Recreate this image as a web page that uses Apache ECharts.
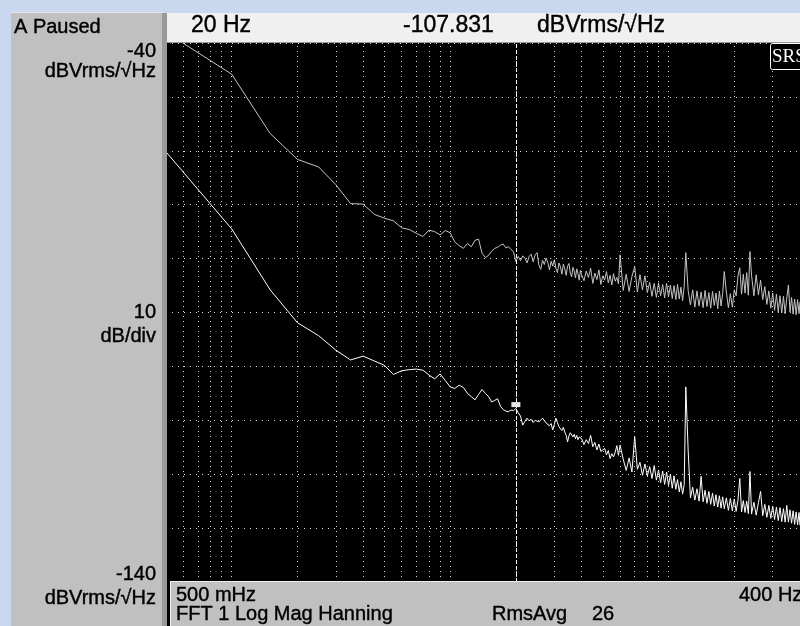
<!DOCTYPE html>
<html lang="en">
<head>
<meta charset="UTF-8">
<title>FFT 1 Log Mag</title>
<style>
  html, body { margin: 0; padding: 0; background: #c9d8ee; }
  #chart { width: 800px; height: 626px; }
</style>
</head>
<body>
<div id="chart"></div>
<script src="https://cdn.jsdelivr.net/npm/echarts@6/dist/echarts.min.js"></script>
<script>
// FFT bins (Hz)
var freqs = [
  0.5, 1, 1.5, 2, 2.5, 3, 3.5, 4, 4.5, 5,
  5.5, 6, 6.5, 7, 7.5, 8, 8.5, 9, 9.5, 10,
  10.5, 11, 11.5, 12, 12.5, 13, 13.5, 14, 14.5, 15,
  15.5, 16, 16.5, 17, 17.5, 18, 18.5, 19, 19.5, 20,
  20.5, 21, 21.5, 22, 22.5, 23, 23.5, 24, 24.5, 25,
  25.5, 26, 26.5, 27, 27.5, 28, 28.5, 29, 29.5, 30,
  30.5, 31, 31.5, 32, 32.5, 33, 33.5, 34, 34.5, 35,
  35.5, 36, 36.5, 37, 37.5, 38, 38.5, 39, 39.5, 40,
  41, 42, 43, 44, 45, 46, 47, 48, 49, 50,
  51, 52, 53, 54, 55, 56, 57, 58, 59, 60,
  62, 64, 66, 68, 70, 72, 74, 76, 78, 80,
  82, 84, 86, 88, 90, 92, 94, 96, 98, 100,
  102, 104, 106, 108, 110, 112, 114, 116, 118, 120,
  123, 126, 129, 132, 135, 138, 141, 144, 147, 150,
  153, 156, 159, 162, 165, 168, 171, 174, 177, 180,
  184, 188, 192, 196, 200, 204, 208, 212, 216, 220,
  224, 228, 232, 236, 240, 246, 252, 258, 264, 270,
  276, 282, 288, 294, 300, 306, 312, 318, 324, 330,
  336, 342, 348, 354, 360, 366, 372, 378, 384, 390,
  396, 400
];

// upper trace (gray), dBVrms/rtHz
var upperDb = [
  -38.0, -45.8, -56.8, -61.6, -63.0, -66.3, -69.8, -69.9, -71.8, -72.5,
  -73.0, -74.3, -74.6, -75.3, -75.9, -74.7, -75.0, -75.6, -74.8, -75.2,
  -76.9, -77.6, -78.1, -77.2, -77.8, -76.6, -76.4, -79.0, -79.8, -79.4,
  -78.6, -78.1, -77.9, -77.5, -77.3, -78.0, -77.8, -78.3, -78.7, -80.5,
  -79.6, -80.4, -79.5, -79.9, -80.8, -79.6, -79.2, -80.6, -79.3, -78.9,
  -81.2, -82.0, -80.3, -81.1, -79.9, -80.7, -82.1, -80.5, -81.4, -80.2,
  -81.8, -82.6, -80.8, -81.5, -82.9, -81.0, -81.9, -83.1, -81.4, -80.9,
  -82.7, -83.4, -81.6, -82.3, -83.6, -81.9, -82.8, -84.0, -82.2, -83.0,
  -84.1, -82.3, -83.5, -81.8, -84.6, -82.7, -83.9, -82.1, -84.8, -83.2,
  -84.0, -82.4, -84.5, -83.1, -84.9, -82.8, -84.2, -83.5, -84.7, -79.3,
  -85.9, -82.9, -86.1, -83.3, -81.5, -86.2, -83.0, -85.8, -83.2, -86.3,
  -84.4, -87.0, -84.6, -87.2, -84.5, -86.9, -84.8, -87.3, -84.6, -87.1,
  -84.9, -87.4, -85.0, -87.6, -84.8, -87.5, -85.3, -87.8, -85.1, -78.9,
  -85.9, -88.6, -85.8, -89.0, -86.0, -88.8, -86.2, -89.1, -85.9, -88.9,
  -86.3, -89.2, -86.1, -88.7, -86.4, -89.3, -86.0, -88.8, -86.5, -82.4,
  -86.2, -89.1, -86.5, -89.0, -85.8, -86.9, -83.2, -81.7, -86.6, -82.9,
  -86.4, -82.6, -86.8, -78.7, -83.1, -86.9, -83.0, -86.7, -84.0, -87.6,
  -85.2, -88.5, -86.0, -89.2, -86.4, -89.6, -86.6, -89.9, -86.9, -90.1,
  -87.0, -90.2, -87.3, -84.9, -89.9, -87.2, -90.3, -87.5, -90.4, -87.6,
  -90.2, -88.0
];

// lower trace (white), dBVrms/rtHz
var lowerDb = [
  -60.2, -74.5, -85.8, -91.9, -94.3, -97.0, -98.8, -98.1, -99.0, -99.8,
  -101.5, -100.8, -100.6, -100.5, -100.7, -101.6, -102.3, -101.4, -102.6, -103.8,
  -104.1, -103.5, -103.9, -105.0, -105.6, -106.2, -105.2, -104.3, -105.0, -105.6,
  -106.6, -106.3, -106.0, -107.4, -108.0, -108.3, -108.4, -108.1, -108.2, -107.8,
  -108.6, -109.2, -110.9, -110.2, -109.6, -110.1, -109.8, -110.4, -110.0, -109.7,
  -110.3, -110.1, -109.6, -109.9, -110.5, -110.2, -111.0, -110.6, -111.8, -110.8,
  -109.6, -110.4, -111.2, -110.9, -111.9, -111.3, -112.2, -112.8, -114.0, -112.9,
  -112.3, -112.0, -113.1, -112.6, -113.4, -112.8, -113.6, -113.1, -112.9, -113.4,
  -114.5, -113.6, -114.3, -112.8, -114.9, -114.1, -115.5, -114.4, -115.8, -116.1,
  -115.2, -116.4, -115.6, -117.1, -116.2, -116.8, -115.9, -114.7, -116.5, -114.6,
  -117.2, -119.3, -117.0, -119.6, -113.0, -119.1, -117.8, -120.2, -118.1, -120.3,
  -118.6, -120.8, -118.4, -121.1, -119.2, -121.6, -119.4, -121.9, -119.6, -122.1,
  -120.0, -122.6, -120.3, -122.8, -121.0, -123.3, -121.4, -123.7, -121.9, -103.8,
  -115.5, -124.4, -122.4, -124.8, -122.7, -125.0, -120.4, -125.1, -123.0, -125.4,
  -123.2, -125.6, -123.5, -125.9, -123.8, -126.1, -124.0, -126.3, -124.2, -126.4,
  -124.4, -126.7, -124.5, -126.8, -124.6, -126.9, -124.8, -120.8, -127.0, -124.9,
  -127.1, -125.0, -127.3, -119.5, -127.4, -125.2, -127.6, -125.3, -123.2, -127.7,
  -125.6, -128.0, -125.8, -128.2, -125.9, -128.4, -126.1, -128.6, -126.2, -128.8,
  -126.4, -128.9, -125.8, -128.9, -126.6, -129.1, -126.8, -129.3, -127.0, -129.4,
  -127.1, -129.5
];

// vertical grid positions (Hz)
var gridFreqs = [0.6, 0.7, 0.8, 0.9, 1, 2, 3, 4, 5, 6, 7, 8, 9, 10,
                 20, 30, 40, 50, 60, 70, 80, 90, 100, 200, 300];

var xMin = 0.5, xMax = 400;
var yMin = -140, yMax = -40, yStep = 10;
var cursorFreq = 20, cursorDb = -107.831;

var FONT = '"Liberation Sans", Arial, sans-serif';

var upperData = [], lowerData = [];
for (var i = 0; i < freqs.length; i++) {
  upperData.push([freqs[i], upperDb[i]]);
  lowerData.push([freqs[i], lowerDb[i]]);
}

function txt(x, y, s, size, align, color, font) {
  var c = color || '#000';
  return {
    type: 'text', x: x, y: y, z: 110, silent: true,
    style: {
      text: s, fill: c, stroke: c, lineWidth: 0.4,
      font: size + 'px ' + (font || FONT),
      align: align || 'left', verticalAlign: 'middle'
    }
  };
}
function box(x, y, w, h, fill, z) {
  return { type: 'rect', z: z || 100, silent: true,
           shape: { x: x, y: y, width: w, height: h }, style: { fill: fill } };
}

var chart = echarts.init(document.getElementById('chart'), null, { renderer: 'canvas' });

var option = {
  backgroundColor: '#c9d8ee',
  animation: false,
  grid: {
    left: 166, top: 43, width: 642, height: 539,
    show: true, backgroundColor: '#000', borderWidth: 0
  },
  xAxis: {
    type: 'log', logBase: 10, min: xMin, max: xMax,
    axisLine: { show: false }, axisTick: { show: false },
    axisLabel: { show: false }, splitLine: { show: false }
  },
  yAxis: {
    type: 'value', min: yMin, max: yMax, interval: yStep,
    axisLine: { show: false }, axisTick: { show: false },
    axisLabel: { show: false },
    splitLine: { show: true, lineStyle: { color: '#d4d4d4', width: 1, type: [1, 5] } }
  },
  series: [
    {
      // grid helper
      type: 'line', data: [], z: 1, silent: true,
      markLine: {
        silent: true, symbol: ['none', 'none'], label: { show: false },
        lineStyle: { color: '#d4d4d4', width: 1, type: [1, 4] },
        data: gridFreqs.map(function (f) { return { xAxis: f }; })
      }
    },
    {
      name: 'upper', type: 'line', data: upperData, z: 3,
      showSymbol: false, symbol: 'none', clip: true,
      lineStyle: { color: '#c4c4c4', width: 1 }
    },
    {
      name: 'lower', type: 'line', data: lowerData, z: 4,
      showSymbol: false, symbol: 'none', clip: true,
      lineStyle: { color: '#ffffff', width: 1 },
      markLine: {
        silent: true, symbol: ['none', 'none'], label: { show: false },
        lineStyle: { color: '#ffffff', width: 1, type: [4, 2] },
        data: [{ xAxis: cursorFreq }]
      },
      markPoint: {
        silent: true, symbol: 'rect', symbolSize: [9, 5], symbolOffset: [0, -4],
        itemStyle: { color: '#e8e8e8' }, label: { show: false },
        data: [{ coord: [cursorFreq, cursorDb] }]
      }
    }
  ],
  graphic: [
    // left panel
    box(11, 12, 152, 1, '#e6e6e6'),
    box(11, 13, 152, 613, '#c0c0c0'),
    box(162, 13, 5, 613, '#9a9a9a'),
    // header
    box(167, 13, 633, 30, '#f0f0f0'),
    box(167, 42, 633, 1, '#9a9a9a'),
    // bottom panel
    box(167, 581, 3, 45, '#000'),
    box(170, 581, 630, 45, '#c0c0c0'),
    box(170, 581, 630, 1, '#f2f2f2'),
    box(170, 581, 1, 45, '#f2f2f2'),
    // SRS logo
    {
      type: 'rect', z: 60, silent: true,
      shape: { x: 770.5, y: 43.5, width: 40, height: 26, r: 2 },
      style: { fill: '#000', stroke: '#ffffff', lineWidth: 1 }
    },
    {
      type: 'text', x: 772, y: 57, z: 110, silent: true,
      style: {
        text: 'SRS', fill: '#ffffff',
        font: '19px "Liberation Serif", "DejaVu Serif", serif',
        align: 'left', verticalAlign: 'middle'
      }
    },
    // left panel labels
    txt(14, 27, 'A Paused', 20),
    txt(156, 51, '-40', 20, 'right'),
    txt(156, 71.5, 'dBVrms/\u221AHz', 20, 'right'),
    txt(156, 312.5, '10', 20, 'right'),
    txt(156, 336.5, 'dB/div', 20, 'right'),
    txt(156, 574.5, '-140', 20, 'right'),
    txt(156, 598.5, 'dBVrms/\u221AHz', 20, 'right'),
    // header readout
    txt(191, 26, '20 Hz', 23),
    txt(403, 26, '-107.831', 23),
    txt(537, 26, 'dBVrms/\u221AHz', 23),
    // bottom readout
    txt(176, 595.5, '500 mHz', 20),
    txt(176, 614.5, 'FFT 1 Log Mag Hanning', 20),
    txt(492, 614.5, 'RmsAvg', 20),
    txt(592, 614.5, '26', 20),
    txt(739, 595, '400 Hz', 20)
  ]
};

chart.setOption(option);
</script>
</body>
</html>
